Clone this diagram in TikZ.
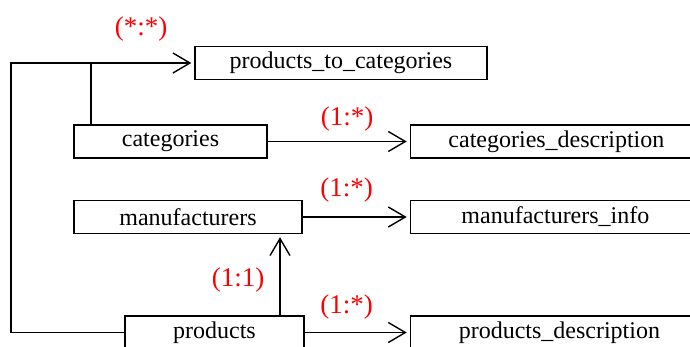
\documentclass[tikz,border=0pt]{standalone}
\usepackage{fontspec}
\setmainfont{Liberation Serif}
\usetikzlibrary{arrows.meta,positioning}

\begin{document}
\begin{tikzpicture}[x=0.5pt,y=-0.5pt,
  table/.style={draw,line width=0.7pt,minimum height=16.5pt,inner sep=0pt,font=\fontsize{12}{14}\selectfont},
  card/.style={text=red,inner sep=0pt,font=\fontsize{13.5}{15}\selectfont},
  link/.style={line width=0.7pt},
  >={Straight Barb[length=8.5pt,width=10pt]}]
\clip (0,0) rectangle (690,347);
\node[table,minimum width=146pt] (ptc) at (341,63) {products\_to\_categories};
\node[table,minimum width=96.5pt] (cat) at (170.5,141.5) {categories};
\node[table,minimum width=146pt,right=71pt of cat] (catd) {categories\_description};
\node[table,minimum width=114pt] (man) at (188,217) {manufacturers};
\node[table,minimum width=145pt,right=53.5pt of man] (mani) {manufacturers\_info};
\node[table,minimum width=89.5pt] (prod) at (214.5,332.5) {products};
\node[table,minimum width=149pt,right=52.5pt of prod] (prodd) {products\_description};
\coordinate (corner) at (11,63);
\coordinate (join) at (91,63);
\coordinate (up) at (280,0);
\draw[link,->,shorten >=1.5pt] (prod.west) -| (corner) -- node[card,above=10.5pt,pos=0.71] (mm) {(*:*)} (ptc.west);
\draw[link] (join |- cat.north) -- (join);
\path[link,->,shorten >=1.5pt]
  (cat) edge node[card,above=5pt,pos=0.56] (c1) {(1:*)} (catd)
  (man) edge node[card,above=7pt,pos=0.41] (c2) {(1:*)} (mani)
  (prod) edge node[card,above=6.5pt,pos=0.4] (c3) {(1:*)} (prodd)
  (up |- prod.north) edge node[card,left=7.5pt,pos=0.44] (c4) {(1:1)} (up |- man.south)
  ;
\end{tikzpicture}
\end{document}
